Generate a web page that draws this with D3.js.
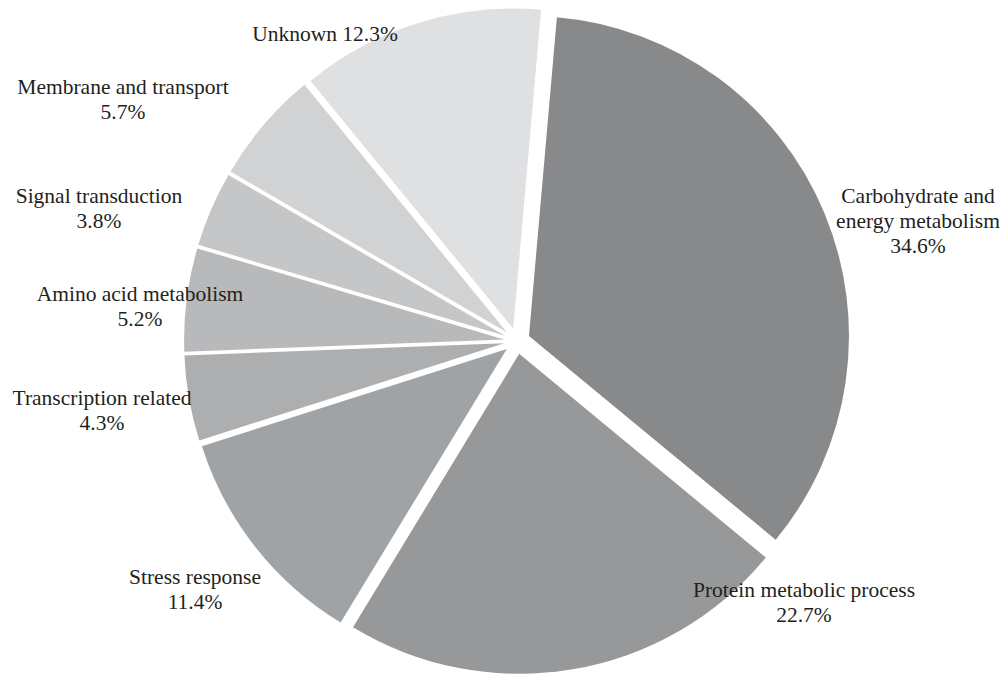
<!DOCTYPE html>
<html>
<head>
<meta charset="utf-8">
<script src="https://cdn.jsdelivr.net/npm/d3@7/dist/d3.min.js"></script>
<style>
  html, body { margin: 0; padding: 0; background: #ffffff; }
  svg { display: block; }
  text { font-family: "Liberation Serif", "Times New Roman", serif; fill: #231f20; }
</style>
</head>
<body>
<svg id="chart" width="1003" height="675"></svg>
<script>
// Functional categories, clockwise from just past 12 o'clock
const categories = [
  "Carbohydrate and energy metabolism",
  "Protein metabolic process",
  "Stress response",
  "Transcription related",
  "Amino acid metabolism",
  "Signal transduction",
  "Membrane and transport",
  "Unknown"
];
const percentages = [34.6, 22.7, 11.4, 4.3, 5.2, 3.8, 5.7, 12.3];
const sliceColors = ["#88898b", "#97989a", "#a0a3a5", "#adaeb0", "#b8b9bb", "#c5c6c8", "#d1d2d4", "#dfe0e2"];

// Label text lines (the value line is appended from percentages)
const labelLines = [
  ["Carbohydrate and", "energy metabolism"],
  ["Protein metabolic process"],
  ["Stress response"],
  ["Transcription related"],
  ["Amino acid metabolism"],
  ["Signal transduction"],
  ["Membrane and transport"],
  ["Unknown"]
];

// Layout
const width = 1003, height = 675;
const cx = 517, cy = 341;
const radius = 320;
const explode = 13;
const startDeg = 5;
const lineGap = 25;
// label anchor (centre x, first baseline y) for each category
const labelAnchor = [
  [918, 203],
  [804, 597],
  [195, 584],
  [102, 405],
  [140, 301],
  [99, 203],
  [123, 94],
  [325, 41]
];

const svg = d3.select("#chart");
const g = svg.append("g").attr("transform", `translate(${cx},${cy})`);

const rad = d => d * Math.PI / 180;
const pie = d3.pie()
  .sort(null)
  .startAngle(rad(startDeg))
  .endAngle(rad(startDeg + 360))
  .value(d => d.value);

const data = categories.map((c, i) => ({ name: c, value: percentages[i], i }));
const arcs = pie(data);
const arc = d3.arc().innerRadius(0).outerRadius(radius);

// Slices, each pushed outward along its own bisector
g.selectAll("path.slice")
  .data(arcs)
  .join("path")
  .attr("class", "slice")
  .attr("d", arc)
  .attr("fill", d => sliceColors[d.data.i])
  .attr("transform", d => {
    const mid = (d.startAngle + d.endAngle) / 2;
    return `translate(${explode * Math.sin(mid)},${-explode * Math.cos(mid)})`;
  });

// Labels
const fontSize = 21.5;
const labels = svg.append("g").attr("font-size", fontSize).attr("text-anchor", "middle");
data.forEach((d, i) => {
  const [x, y] = labelAnchor[i];
  const t = labels.append("text").attr("x", x).attr("y", y);
  const pct = `${d3.format(".1f")(d.value)}%`;
  const lines = d.name === "Unknown"
    ? [`Unknown ${pct}`]
    : labelLines[i].concat([pct]);
  lines.forEach((ln, k) => {
    t.append("tspan").attr("x", x).attr("dy", k === 0 ? 0 : lineGap).text(ln);
  });
});
</script>
</body>
</html>
